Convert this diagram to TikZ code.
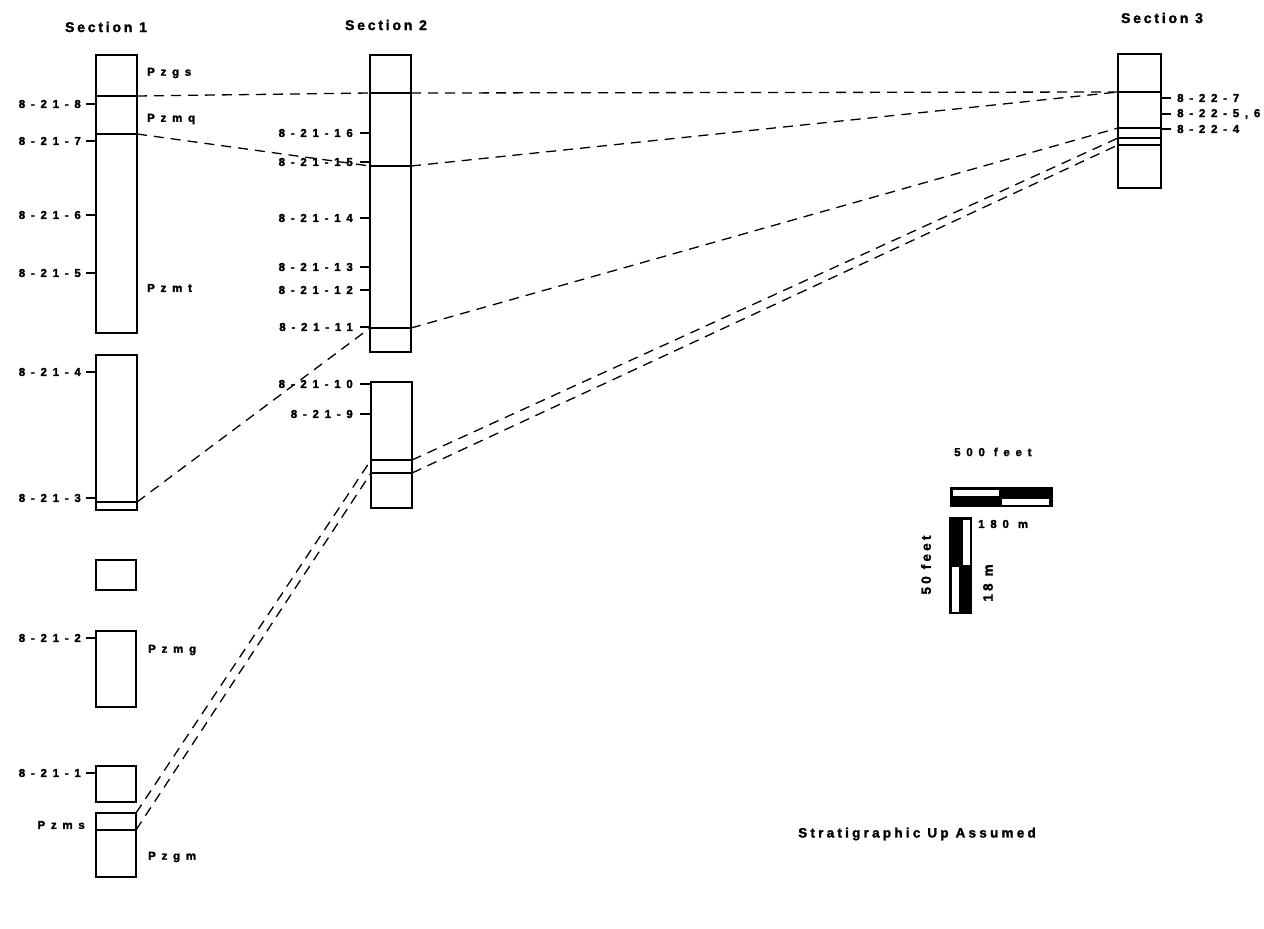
\documentclass[tikz,border=0pt]{standalone}
\usepackage{fontspec}
\newfontfamily\labfont{Liberation Sans Bold}[LetterSpace=50,FakeBold=2]
\newfontfamily\ttlfont{Liberation Sans Bold}[LetterSpace=20,FakeBold=1.8]
\newfontfamily\capfont{Liberation Sans Bold}[LetterSpace=24,FakeBold=1.8]
\begin{document}
\begin{tikzpicture}[x=1pt,y=-1pt,
  colbox/.style={draw,line width=1.6pt,inner sep=0pt,fill=none},
  contact/.style={line width=1.2pt},
  tick/.style={line width=1.4pt},
  corr/.style={line width=1.3pt,dash pattern=on 10pt off 7pt},
  lab/.style={font=\labfont\fontsize{11.5}{12}\selectfont,inner sep=0pt},
  ttl/.style={font=\ttlfont\fontsize{14}{15}\selectfont,inner sep=0pt},
  capt/.style={font=\capfont\fontsize{13.5}{14}\selectfont,inner sep=0pt}]
\useasboundingbox (0,0) rectangle (1264,929);
% titles
\node[ttl] (t1) at (106,27) {Section 1};
\node[ttl] (t2) at (386,25) {Section 2};
\node[ttl] (t3) at (1162,18) {Section 3};
% Section 1 boxes
\node[colbox,minimum width=41pt,minimum height=278pt] (s1a) at (116.5,194) {};
\node[colbox,minimum width=41pt,minimum height=155pt] (s1b) at (116.5,432.5) {};
\node[colbox,minimum width=40pt,minimum height=30pt] (s1c) at (116,575) {};
\node[colbox,minimum width=40pt,minimum height=76pt] (s1d) at (116,669) {};
\node[colbox,minimum width=40pt,minimum height=36pt] (s1e) at (116,784) {};
\node[colbox,minimum width=40pt,minimum height=64pt] (s1f) at (116,845) {};
\coordinate (a1) at (137,96);
\coordinate (a2) at (137,134);
\coordinate (a3) at (137,502);
\coordinate (a4) at (136,813);
\coordinate (a5) at (136,830);
\draw[contact] (s1a.west |- a1) -- (a1);
\draw[contact] (s1a.west |- a2) -- (a2);
\draw[contact] (s1b.west |- a3) -- (a3);
\draw[contact] (s1f.west |- a5) -- (a5);
% Section 1 labels
\foreach \n/\y/\t in {l8/104/8-21-8, l7/141/8-21-7, l6/215/8-21-6, l5/273/8-21-5, l4/372/8-21-4, l3/498/8-21-3, l2/638/8-21-2, l1/773/8-21-1}{
  \node[lab,anchor=east] (\n) at (81,\y) {\t};
  \draw[tick] (86,\y) -- (96,\y);
}
\node[lab,anchor=west] (pzgs) at (147,73) {Pzgs};
\node[lab,anchor=west] (pzmq) at (147,119) {Pzmq};
\node[lab,anchor=west] (pzmt) at (147,288) {Pzmt};
\node[lab,anchor=west] (pzmg) at (148,650) {Pzmg};
\node[lab,anchor=east] (pzms) at (85,825) {Pzms};
\node[lab,anchor=west] (pzgm) at (148,857) {Pzgm};
% Section 2 boxes
\node[colbox,minimum width=41pt,minimum height=297pt] (s2a) at (390.5,203.5) {};
\node[colbox,minimum width=41pt,minimum height=126pt] (s2b) at (391.5,445) {};
\coordinate (b1l) at (370,93);   \coordinate (b1r) at (411,93);
\coordinate (b2l) at (370,166);  \coordinate (b2r) at (411,166);
\coordinate (b3l) at (370,328);  \coordinate (b3r) at (411,328);
\coordinate (b4l) at (371,460);  \coordinate (b4r) at (412,460);
\coordinate (b5l) at (371,473);  \coordinate (b5r) at (412,473);
\draw[contact] (b1l) -- (b1r);
\draw[contact] (b2l) -- (b2r);
\draw[contact] (b3l) -- (b3r);
\draw[contact] (b4l) -- (b4r);
\draw[contact] (b5l) -- (b5r);
\foreach \n/\y/\t in {m16/133/8-21-16, m15/162/8-21-15, m14/218/8-21-14, m13/267/8-21-13, m12/290/8-21-12, m11/327/8-21-11, m10/384/8-21-10, m9/414/8-21-9}{
  \node[lab,anchor=east] (\n) at (353,\y) {\t};
  \draw[tick] (360,\y) -- (370,\y);
}
% Section 3 box
\node[colbox,minimum width=43pt,minimum height=134pt] (s3) at (1139.5,121) {};
\coordinate (c1l) at (1118,92);  \coordinate (c1r) at (1161,92);
\coordinate (c2l) at (1118,128); \coordinate (c2r) at (1161,128);
\coordinate (c3l) at (1118,138); \coordinate (c3r) at (1161,138);
\coordinate (c4l) at (1118,145); \coordinate (c4r) at (1161,145);
\draw[contact] (c1l) -- (c1r);
\draw[contact] (c2l) -- (c2r);
\draw[contact] (c3l) -- (c3r);
\draw[contact] (c4l) -- (c4r);
\foreach \n/\y/\t in {n7/98/8-22-7, n56/114/{8-22-5,6}, n4/129/8-22-4}{
  \node[lab,anchor=west] (\n) at (1177,\y) {\t};
  \draw[tick] (1161,\y) -- (1171,\y);
}
% correlation lines
\draw[corr] (a1) -- (b1l);
\draw[corr] (b1r) -- (c1l);
\draw[corr] (a2) -- (b2l);
\draw[corr] (b2r) -- (c1l);
\draw[corr] (a3) -- (b3l);
\draw[corr] (b3r) -- (c2l);
\draw[corr] (a4) -- (b4l);
\draw[corr] (a5) -- (b5l);
\draw[corr] (b4r) -- (c3l);
\draw[corr] (b5r) -- (c4l);
% scale bars
\node[lab,anchor=west] (sf) at (954,452) {500 feet};
\fill (950,487) rectangle (1053,507);
\fill[white] (953,489.5) rectangle (999,496);
\fill[white] (1002,499) rectangle (1049,505);
\fill (949,517) rectangle (972,614);
\fill[white] (962.5,519.5) rectangle (969.5,565);
\fill[white] (951.5,567) rectangle (958.5,611.5);
\node[lab,anchor=west] (sm) at (978,524) {180 m};
\node[capt,rotate=90] (vf) at (926,565) {50 feet};
\node[capt,rotate=90] (vm) at (988,583) {18 m};
\node[capt] (note) at (917,834) {Stratigraphic Up Assumed};
\end{tikzpicture}
\end{document}
